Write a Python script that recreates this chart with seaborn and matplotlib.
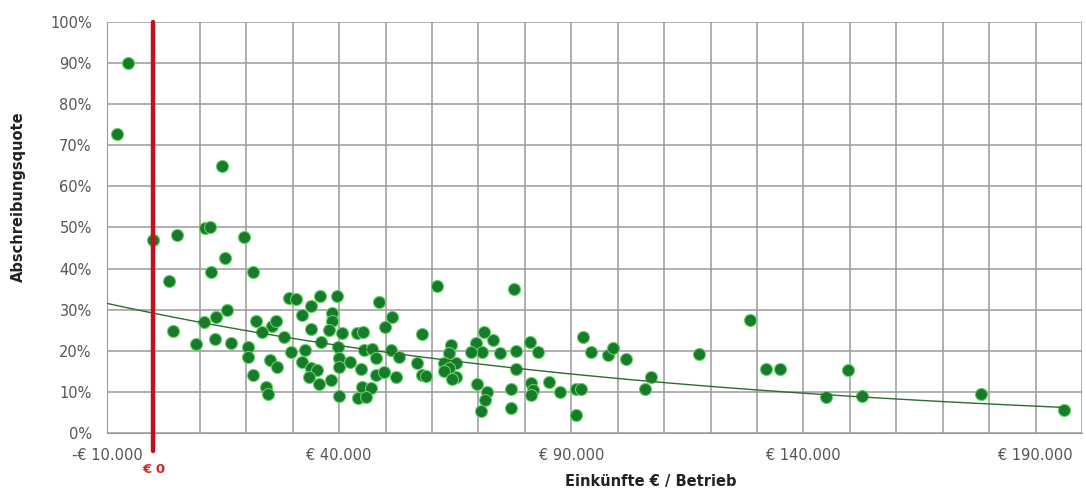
import numpy as np
import pandas as pd
import seaborn as sns
import matplotlib.pyplot as plt
from matplotlib.ticker import MultipleLocator, FixedLocator, FuncFormatter
import matplotlib.transforms as mtransforms

einkuenfte = [
    -7900, -5500, -100, 5000, 11200, 12100, 14700, 19600, 15500, 12500,
    21500, 3300, 15800, 13400, 10800, 4200, 9100, 13200, 16800, 20300,
    20300, 21500, 24300, 24600, 22200, 25600, 23300, 25200, 26700, 26500,
    29100, 30800, 28200, 29700, 32100, 34000, 35900, 34000, 36100, 32700,
    32100, 34000, 35300, 33600, 35700, 38300, 39600, 38500, 38500, 37900,
    40600, 39800, 40000, 40000, 40000, 42400, 43900, 45200, 45400, 47100,
    44700, 47900, 49700, 44900, 46900, 44100, 45800, 48600, 51400, 49900,
    51200, 52900, 52200, 56700, 57800, 58700, 57800, 61000, 64000, 63600,
    62500, 65100, 63600, 62500, 65100, 64300, 71300, 73100, 69400, 70700,
    68500, 74600, 78200, 81200, 82900, 78000, 77600, 69600, 71800, 71500,
    70500, 77100, 77100, 81400, 81800, 85100, 87600, 81400, 91100, 92200,
    91100, 92600, 94300, 97900, 99000, 101800, 107200, 105900, 117500, 128600,
    131900, 134900, 149700, 144900, 152700, 178200, 196200, 47900,
]
quote = [
    72.7, 90.0, 47.0, 48.2, 49.9, 50.1, 65.0, 47.7, 42.6, 39.2,
    39.2, 37.0, 29.9, 28.2, 27.0, 24.8, 21.7, 22.9, 21.9, 20.9,
    18.5, 14.1, 11.2, 9.5, 27.3, 26.0, 24.6, 17.8, 16.1, 27.3,
    32.8, 32.6, 23.4, 19.7, 28.7, 30.9, 33.3, 25.3, 22.1, 20.2,
    17.3, 15.8, 15.3, 13.6, 11.9, 12.9, 33.3, 29.2, 27.3, 25.1,
    24.3, 20.9, 18.2, 16.1, 9.0, 17.3, 24.3, 24.6, 20.2, 20.4,
    15.6, 14.1, 14.8, 11.2, 10.9, 8.5, 8.8, 31.9, 28.2, 25.8,
    20.2, 18.5, 13.6, 17.0, 14.1, 13.9, 24.1, 35.8, 21.4, 19.5,
    17.0, 17.0, 15.8, 15.1, 13.6, 13.1, 24.6, 22.6, 21.9, 19.7,
    19.7, 19.5, 20.0, 22.1, 19.7, 15.6, 35.0, 11.9, 10.0, 8.0,
    5.4, 10.7, 6.1, 12.2, 10.5, 12.4, 10.0, 9.2, 10.7, 10.7,
    4.4, 23.4, 19.7, 19.0, 20.7, 18.0, 13.6, 10.7, 19.2, 27.5,
    15.6, 15.6, 15.3, 8.8, 9.0, 9.5, 5.6, 18.2,
]
x_ticks = [-10000, 40000, 90000, 140000, 190000]

df = pd.DataFrame({'einkuenfte': einkuenfte, 'quote': quote})

sns.set_style('whitegrid')
plt.rcParams['font.family'] = ['DejaVu Sans']

fig, ax = plt.subplots(figsize=(10.86, 4.88), dpi=100)
fig.subplots_adjust(left=0.0985, right=0.9963, top=0.955, bottom=0.1127)

# exponentielle Trendlinie (wie Excel: Fit auf log(y))
b, a = np.polyfit(df['einkuenfte'], np.log(df['quote']), 1)
trend_x = np.linspace(-10000, 196000, 100)
trend = pd.DataFrame({'einkuenfte': trend_x, 'quote': np.exp(a + b * trend_x)})

sns.scatterplot(data=df, x='einkuenfte', y='quote', ax=ax, s=75,
                color='#187a2c', edgecolor='#5fd35f', linewidth=0.8, zorder=3)
sns.lineplot(data=trend, x='einkuenfte', y='quote', ax=ax, color='#2c6e30',
             linewidth=1.0, zorder=4)

ax.set_xlim(-10000, 200000)
ax.set_ylim(0, 100)
ax.xaxis.set_major_locator(FixedLocator(x_ticks))
ax.xaxis.set_minor_locator(MultipleLocator(10000))
ax.yaxis.set_major_locator(MultipleLocator(10))


def euro(v, pos):
    s = f'{abs(v):,.0f}'.replace(',', '.')
    return f'-€ {s}' if v < 0 else f'€ {s}'


ax.xaxis.set_major_formatter(FuncFormatter(euro))
ax.yaxis.set_major_formatter(FuncFormatter(lambda v, p: f'{v:.0f}%'))
ax.grid(which='both', color='#9a9a9a', linewidth=1.1)
ax.tick_params(axis='x', labelsize=10.5, labelcolor='#555555', length=0, pad=11)
ax.tick_params(axis='y', labelsize=10.5, labelcolor='#555555', length=0, pad=11)
for sp in ax.spines.values():
    sp.set_visible(False)
ax.spines['left'].set_visible(True)
ax.spines['bottom'].set_visible(True)
ax.spines['left'].set_color('#9a9a9a')
ax.spines['bottom'].set_color('#9a9a9a')

# rote Linie bei 0 EUR
ax.axvline(0, ymin=-0.045, ymax=1, color='#c0121b', linewidth=3.2,
           clip_on=False, zorder=5)
trans = mtransforms.blended_transform_factory(ax.transData, ax.transAxes)
ax.text(0, -0.088, '€ 0', transform=trans, ha='center', va='center',
        color='#d42a2a', fontsize=9.5, fontweight='bold')

ax.set_xlabel('Einkünfte € / Betrieb', fontsize=10.5, fontweight='bold',
              color='#222222')
ax.set_ylabel('Abschreibungsquote', fontsize=10.5, fontweight='bold',
              color='#222222')
ax.xaxis.set_label_coords(0.558, -0.1)
ax.yaxis.set_label_coords(-0.083, 0.574)

fig.savefig('out.png', dpi=100)
